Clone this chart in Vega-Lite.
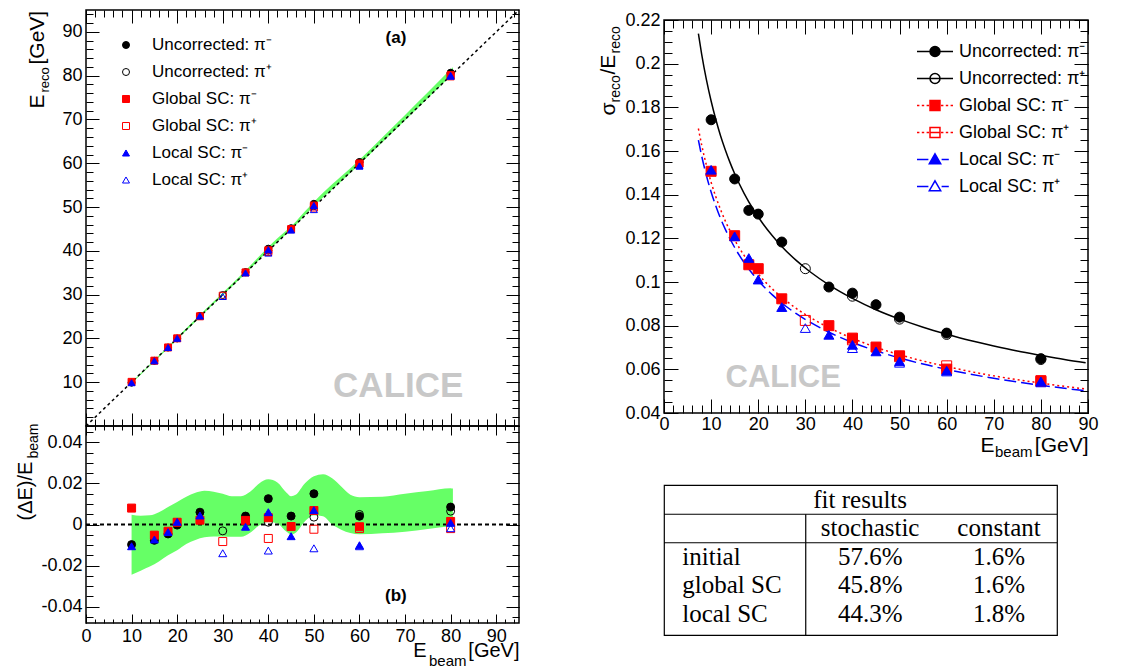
{
"$schema": "https://vega.github.io/schema/vega-lite/v6.json",
"padding": {"left": 14, "top": 6, "right": 5, "bottom": 5},
"background": "white",
"config": {
  "view": {"stroke": "black", "strokeWidth": 1.5},
  "font": "Liberation Sans",
  "axis": {"domain": false, "grid": false, "tickColor": "black", "tickWidth": 1, "labelColor": "black", "labelFont": "Liberation Sans", "labelFontSize": 18, "labelFlush": false, "labelOverlap": false, "titleFont": "Liberation Sans", "titleColor": "black", "titleFontWeight": "normal", "titlePadding": 0},
  "legend": {"labelFont": "Liberation Sans", "labelColor": "black", "padding": 0}
},
"datasets": {
  "pts": [
    {"s":"Uncorrected: π⁻","e":10,"r":-0.0098,"er":9.90,"q":0.1743},
    {"s":"Uncorrected: π⁻","e":15,"r":-0.0077,"er":14.88,"q":0.1472},
    {"s":"Uncorrected: π⁻","e":18,"r":-0.0046,"er":17.92,"q":0.1328},
    {"s":"Uncorrected: π⁻","e":20,"r":-0.0003,"er":19.99,"q":0.1311},
    {"s":"Uncorrected: π⁻","e":25,"r":0.0060,"er":25.15,"q":0.1183},
    {"s":"Uncorrected: π⁻","e":35,"r":0.0041,"er":35.14,"q":0.0977},
    {"s":"Uncorrected: π⁻","e":40,"r":0.0126,"er":40.50,"q":0.0949},
    {"s":"Uncorrected: π⁻","e":45,"r":0.0041,"er":45.18,"q":0.0896},
    {"s":"Uncorrected: π⁻","e":50,"r":0.0150,"er":50.75,"q":0.0839},
    {"s":"Uncorrected: π⁻","e":60,"r":0.0040,"er":60.24,"q":0.0766},
    {"s":"Uncorrected: π⁻","e":80,"r":0.0085,"er":80.68,"q":0.0649},
    {"s":"Uncorrected: π⁺","e":30,"r":-0.0031,"er":29.91,"q":0.1061},
    {"s":"Uncorrected: π⁺","e":40,"r":0.0011,"er":40.04,"q":0.0935},
    {"s":"Uncorrected: π⁺","e":50,"r":0.0036,"er":50.18,"q":0.0830},
    {"s":"Uncorrected: π⁺","e":60,"r":0.0049,"er":60.29,"q":0.0760},
    {"s":"Uncorrected: π⁺","e":80,"r":0.0065,"er":80.52,"q":0.0645},
    {"s":"Global SC: π⁻","e":10,"r":0.0080,"er":10.08,"q":0.1507},
    {"s":"Global SC: π⁻","e":15,"r":-0.0052,"er":14.92,"q":0.1212},
    {"s":"Global SC: π⁻","e":18,"r":-0.0033,"er":17.94,"q":0.1079},
    {"s":"Global SC: π⁻","e":20,"r":0.0011,"er":20.02,"q":0.1061},
    {"s":"Global SC: π⁻","e":25,"r":0.0021,"er":25.05,"q":0.0923},
    {"s":"Global SC: π⁻","e":35,"r":0.0020,"er":35.07,"q":0.0800},
    {"s":"Global SC: π⁻","e":40,"r":0.0033,"er":40.13,"q":0.0743},
    {"s":"Global SC: π⁻","e":45,"r":-0.0010,"er":44.96,"q":0.0702},
    {"s":"Global SC: π⁻","e":50,"r":0.0068,"er":50.34,"q":0.0662},
    {"s":"Global SC: π⁻","e":60,"r":-0.0011,"er":59.93,"q":0.0601},
    {"s":"Global SC: π⁻","e":80,"r":0.0015,"er":80.12,"q":0.0548},
    {"s":"Global SC: π⁺","e":30,"r":-0.0083,"er":29.75,"q":0.0824},
    {"s":"Global SC: π⁺","e":40,"r":-0.0068,"er":39.73,"q":0.0735},
    {"s":"Global SC: π⁺","e":50,"r":-0.0023,"er":49.89,"q":0.0658},
    {"s":"Global SC: π⁺","e":60,"r":-0.0020,"er":59.88,"q":0.0616},
    {"s":"Global SC: π⁺","e":80,"r":-0.0020,"er":79.84,"q":0.0545},
    {"s":"Local SC: π⁻","e":10,"r":-0.0106,"er":9.89,"q":0.1514},
    {"s":"Local SC: π⁻","e":15,"r":-0.0073,"er":14.89,"q":0.1209},
    {"s":"Local SC: π⁻","e":18,"r":-0.0037,"er":17.93,"q":0.1110},
    {"s":"Local SC: π⁻","e":20,"r":0.0013,"er":20.03,"q":0.1011},
    {"s":"Local SC: π⁻","e":25,"r":0.0044,"er":25.11,"q":0.0885},
    {"s":"Local SC: π⁻","e":35,"r":-0.0011,"er":34.96,"q":0.0758},
    {"s":"Local SC: π⁻","e":40,"r":0.0060,"er":40.24,"q":0.0712},
    {"s":"Local SC: π⁻","e":45,"r":-0.0057,"er":44.74,"q":0.0682},
    {"s":"Local SC: π⁻","e":50,"r":0.0070,"er":50.35,"q":0.0637},
    {"s":"Local SC: π⁻","e":60,"r":-0.0101,"er":59.39,"q":0.0594},
    {"s":"Local SC: π⁻","e":80,"r":0.0008,"er":80.06,"q":0.0545},
    {"s":"Local SC: π⁺","e":30,"r":-0.0140,"er":29.58,"q":0.0789},
    {"s":"Local SC: π⁺","e":40,"r":-0.0127,"er":39.49,"q":0.0697},
    {"s":"Local SC: π⁺","e":50,"r":-0.0116,"er":49.42,"q":0.0630},
    {"s":"Local SC: π⁺","e":60,"r":-0.0106,"er":59.36,"q":0.0590},
    {"s":"Local SC: π⁺","e":80,"r":-0.0018,"er":79.86,"q":0.0540}
  ],
  "ser": [
    {"s2":"Uncorrected: π⁻"},{"s2":"Uncorrected: π⁺"},{"s2":"Global SC: π⁻"},
    {"s2":"Global SC: π⁺"},{"s2":"Local SC: π⁻"},{"s2":"Local SC: π⁺"}
  ],
  "band": [
    {"e":10,"lo":-0.0245,"hi":0.0048,"elo":9.755,"ehi":10.048},
    {"e":12,"lo":-0.0225,"hi":0.0043,"elo":11.73,"ehi":12.052},
    {"e":14,"lo":-0.0205,"hi":0.0045,"elo":13.713,"ehi":14.063},
    {"e":16,"lo":-0.018,"hi":0.006,"elo":15.712,"ehi":16.096},
    {"e":18,"lo":-0.015,"hi":0.0085,"elo":17.73,"ehi":18.153},
    {"e":20,"lo":-0.0125,"hi":0.011,"elo":19.75,"ehi":20.22},
    {"e":22,"lo":-0.0095,"hi":0.0135,"elo":21.791,"ehi":22.297},
    {"e":24,"lo":-0.0075,"hi":0.0155,"elo":23.82,"ehi":24.372},
    {"e":26,"lo":-0.0062,"hi":0.0165,"elo":25.839,"ehi":26.429},
    {"e":28,"lo":-0.0058,"hi":0.016,"elo":27.838,"ehi":28.448},
    {"e":30,"lo":-0.0058,"hi":0.015,"elo":29.826,"ehi":30.45},
    {"e":32,"lo":-0.006,"hi":0.0138,"elo":31.808,"ehi":32.442},
    {"e":34,"lo":-0.006,"hi":0.0138,"elo":33.796,"ehi":34.469},
    {"e":36,"lo":-0.004,"hi":0.016,"elo":35.856,"ehi":36.576},
    {"e":38,"lo":-0.0005,"hi":0.02,"elo":37.981,"ehi":38.76},
    {"e":40,"lo":0.0012,"hi":0.022,"elo":40.048,"ehi":40.88},
    {"e":42,"lo":0.0005,"hi":0.0205,"elo":42.021,"ehi":42.861},
    {"e":44,"lo":-0.0035,"hi":0.0155,"elo":43.846,"ehi":44.682},
    {"e":45,"lo":-0.0048,"hi":0.0138,"elo":44.784,"ehi":45.621},
    {"e":46,"lo":-0.004,"hi":0.0145,"elo":45.816,"ehi":46.667},
    {"e":48,"lo":0.0015,"hi":0.02,"elo":48.072,"ehi":48.96},
    {"e":50,"lo":0.0045,"hi":0.0235,"elo":50.225,"ehi":51.175},
    {"e":52,"lo":0.004,"hi":0.0245,"elo":52.208,"ehi":53.274},
    {"e":54,"lo":0.0,"hi":0.0225,"elo":54.0,"ehi":55.215},
    {"e":56,"lo":-0.0025,"hi":0.0185,"elo":55.86,"ehi":57.036},
    {"e":58,"lo":-0.0042,"hi":0.0145,"elo":57.756,"ehi":58.841},
    {"e":60,"lo":-0.0048,"hi":0.0133,"elo":59.712,"ehi":60.798},
    {"e":65,"lo":-0.0043,"hi":0.0135,"elo":64.72,"ehi":65.878},
    {"e":70,"lo":-0.0035,"hi":0.015,"elo":69.755,"ehi":71.05},
    {"e":75,"lo":-0.0022,"hi":0.0163,"elo":74.835,"ehi":76.223},
    {"e":80,"lo":-0.0009,"hi":0.0177,"elo":79.928,"ehi":81.416},
    {"e":80.5,"lo":-0.0008,"hi":0.0175,"elo":80.436,"ehi":81.909}
  ],
  "fits": [
    {"e":7.3,"u":0.2138,"g":0.1703,"l":0.1650},
    {"e":8,"u":0.2043,"g":0.1627,"l":0.1577},
    {"e":9,"u":0.1927,"g":0.1535,"l":0.1488},
    {"e":10,"u":0.1829,"g":0.1457,"l":0.1412},
    {"e":11,"u":0.1744,"g":0.1390,"l":0.1348},
    {"e":12,"u":0.1670,"g":0.1332,"l":0.1291},
    {"e":13,"u":0.1606,"g":0.1280,"l":0.1242},
    {"e":14,"u":0.1548,"g":0.1235,"l":0.1198},
    {"e":15,"u":0.1496,"g":0.1193,"l":0.1158},
    {"e":17,"u":0.1406,"g":0.1122,"l":0.1089},
    {"e":19,"u":0.1331,"g":0.1063,"l":0.1032},
    {"e":21,"u":0.1267,"g":0.1012,"l":0.0983},
    {"e":23,"u":0.1212,"g":0.0968,"l":0.0941},
    {"e":25,"u":0.1163,"g":0.0930,"l":0.0904},
    {"e":28,"u":0.1100,"g":0.0880,"l":0.0856},
    {"e":31,"u":0.1047,"g":0.0838,"l":0.0816},
    {"e":35,"u":0.0987,"g":0.0791,"l":0.0770},
    {"e":40,"u":0.0925,"g":0.0742,"l":0.0723},
    {"e":45,"u":0.0873,"g":0.0701,"l":0.0685},
    {"e":50,"u":0.0830,"g":0.0667,"l":0.0652},
    {"e":55,"u":0.0793,"g":0.0638,"l":0.0624},
    {"e":60,"u":0.0761,"g":0.0613,"l":0.0600},
    {"e":65,"u":0.0732,"g":0.0590,"l":0.0578},
    {"e":70,"u":0.0707,"g":0.0570,"l":0.0559},
    {"e":75,"u":0.0684,"g":0.0553,"l":0.0542},
    {"e":80,"u":0.0664,"g":0.0537,"l":0.0527},
    {"e":85,"u":0.0645,"g":0.0522,"l":0.0513},
    {"e":89.5,"u":0.0630,"g":0.0510,"l":0.0502}
  ],
  "diag": [{"e":0,"v":0},{"e":95,"v":95}],
  "zero": [{"e":0,"v":0},{"e":95,"v":0}],
  "hdr": [{"r":0,"c":1,"t":"fit results"}],
  "cells": [
    {"r":1,"c":1,"t":"stochastic"},{"r":1,"c":2,"t":"constant"},
    {"r":2,"c":1,"t":"57.6%"},{"r":2,"c":2,"t":"1.6%"},
    {"r":3,"c":1,"t":"45.8%"},{"r":3,"c":2,"t":"1.6%"},
    {"r":4,"c":1,"t":"44.3%"},{"r":4,"c":2,"t":"1.8%"}
  ],
  "rowlab": [{"r":2,"c":0,"t":"initial"},{"r":3,"c":0,"t":"global SC"},{"r":4,"c":0,"t":"local SC"}],
  "hlines": [{"r":0.5},{"r":1.5}],
  "vline": [{"c":0.5,"r":0.5,"r2":4.737}]
},
"hconcat": [
  {
    "vconcat": [
      {
        "width": 433, "height": 416,
        "layer": [
          {"data": {"name": "band"}, "mark": {"type": "area", "color": "#66ff66", "interpolate": "monotone"},
           "encoding": {
             "x": {"field": "e", "type": "quantitative", "scale": {"domain": [0, 95], "nice": false, "zero": false},
                   "axis": {"orient": "bottom", "values": [0,10,20,30,40,50,60,70,80,90], "labels": false, "tickSize": -13, "title": null}},
             "y": {"field": "ehi", "type": "quantitative", "scale": {"domain": [0, 95], "nice": false, "zero": false},
                   "axis": {"orient": "left", "values": [10,20,30,40,50,60,70,80,90], "tickSize": -13, "labelPadding": 17, "title": "E", "titleX": -43, "titleY": 98, "titleAngle": 270, "titleAlign": "left", "titleBaseline": "alphabetic", "titleFontSize": 21}},
             "y2": {"field": "elo"}
           }},
          {"data": {"name": "diag"}, "mark": {"type": "line", "color": "black", "strokeDash": [3, 3], "strokeWidth": 1.5},
           "encoding": {
             "x": {"field": "e", "type": "quantitative", "scale": {"domain": [0, 95], "nice": false, "zero": false},
                   "axis": {"orient": "bottom", "values": [0,2,4,6,8,10,12,14,16,18,20,22,24,26,28,30,32,34,36,38,40,42,44,46,48,50,52,54,56,58,60,62,64,66,68,70,72,74,76,78,80,82,84,86,88,90,92,94], "labels": false, "tickSize": -7, "title": null}},
             "y": {"field": "v", "type": "quantitative", "scale": {"domain": [0, 95], "nice": false, "zero": false},
                   "axis": {"orient": "left", "values": [0,2,4,6,8,10,12,14,16,18,20,22,24,26,28,30,32,34,36,38,40,42,44,46,48,50,52,54,56,58,60,62,64,66,68,70,72,74,76,78,80,82,84,86,88,90,92,94], "labels": false, "tickSize": -7, "title": "reco", "titleX": -38, "titleY": 82, "titleAngle": 270, "titleAlign": "left", "titleBaseline": "alphabetic", "titleFontSize": 13}}
           }},
          {"data": {"name": "pts"}, "mark": {"type": "point", "size": 49, "strokeWidth": 1, "opacity": 1},
           "encoding": {
             "x": {"field": "e", "type": "quantitative", "scale": {"domain": [0, 95], "nice": false, "zero": false},
                   "axis": {"orient": "top", "values": [0,10,20,30,40,50,60,70,80,90], "labels": false, "tickSize": -13, "title": null}},
             "y": {"field": "er", "type": "quantitative", "scale": {"domain": [0, 95], "nice": false, "zero": false},
                   "axis": {"orient": "right", "values": [0,10,20,30,40,50,60,70,80,90], "labels": false, "tickSize": -13, "title": "[GeV]", "titleX": -476, "titleY": 54, "titleAngle": 270, "titleAlign": "left", "titleBaseline": "alphabetic", "titleFontSize": 21}},
             "shape": {"field": "s", "type": "nominal", "scale": {"domain": ["Uncorrected: π⁻","Uncorrected: π⁺","Global SC: π⁻","Global SC: π⁺","Local SC: π⁻","Local SC: π⁺"], "range": ["circle","circle","square","square","triangle-up","triangle-up"]},
                       "legend": {"orient": "none", "legendX": 31.5, "legendY": 26.5, "title": null, "labelFontSize": 17, "labelOffset": 17.5, "rowPadding": 9, "symbolSize": 49, "symbolStrokeWidth": 1}},
             "fill": {"field": "s", "type": "nominal", "scale": {"domain": ["Uncorrected: π⁻","Uncorrected: π⁺","Global SC: π⁻","Global SC: π⁺","Local SC: π⁻","Local SC: π⁺"], "range": ["black","transparent","#ff0000","transparent","#0000ff","transparent"]},
                       "legend": {"orient": "none", "legendX": 31.5, "legendY": 26.5, "title": null, "labelFontSize": 17, "labelOffset": 17.5, "rowPadding": 9, "symbolSize": 49, "symbolStrokeWidth": 1}},
             "stroke": {"field": "s", "type": "nominal", "scale": {"domain": ["Uncorrected: π⁻","Uncorrected: π⁺","Global SC: π⁻","Global SC: π⁺","Local SC: π⁻","Local SC: π⁺"], "range": ["black","black","#ff0000","#ff0000","#0000ff","#0000ff"]},
                       "legend": {"orient": "none", "legendX": 31.5, "legendY": 26.5, "title": null, "labelFontSize": 17, "labelOffset": 17.5, "rowPadding": 9, "symbolSize": 49, "symbolStrokeWidth": 1}}
           }},
          {"data": {"values": [{}]}, "mark": {"type": "text", "text": "(a)", "fontSize": 17, "fontWeight": "bold", "align": "center", "baseline": "middle", "color": "black"},
           "encoding": {
             "x": {"datum": 68, "type": "quantitative", "scale": {"domain": [0, 95], "nice": false, "zero": false},
                   "axis": {"orient": "top", "values": [0,2,4,6,8,10,12,14,16,18,20,22,24,26,28,30,32,34,36,38,40,42,44,46,48,50,52,54,56,58,60,62,64,66,68,70,72,74,76,78,80,82,84,86,88,90,92,94], "labels": false, "tickSize": -7, "title": null}},
             "y": {"datum": 88.6, "type": "quantitative", "scale": {"domain": [0, 95], "nice": false, "zero": false},
                   "axis": {"orient": "right", "values": [0,2,4,6,8,10,12,14,16,18,20,22,24,26,28,30,32,34,36,38,40,42,44,46,48,50,52,54,56,58,60,62,64,66,68,70,72,74,76,78,80,82,84,86,88,90,92,94], "labels": false, "tickSize": -7, "title": null}}
           }},
          {"data": {"values": [{}]}, "mark": {"type": "text", "text": "CALICE", "fontSize": 35, "fontWeight": "bold", "align": "center", "baseline": "middle", "color": "#c8c8c8"},
           "encoding": {
             "x": {"datum": 68.5, "type": "quantitative", "axis": null},
             "y": {"datum": 9.1, "type": "quantitative", "axis": null}
           }}
        ],
        "resolve": {"axis": {"x": "independent", "y": "independent"}}
      },
      {
        "width": 433, "height": 197,
        "layer": [
          {"data": {"name": "band"}, "mark": {"type": "area", "color": "#66ff66", "interpolate": "monotone"},
           "encoding": {
             "x": {"field": "e", "type": "quantitative", "scale": {"domain": [0, 95], "nice": false, "zero": false},
                   "axis": {"orient": "bottom", "values": [0,10,20,30,40,50,60,70,80,90], "tickSize": -9, "labelPadding": 13, "title": "[GeV]", "titleX": 433, "titleY": 33, "titleAngle": 0, "titleAlign": "right", "titleBaseline": "alphabetic", "titleFontSize": 20}},
             "y": {"field": "hi", "type": "quantitative", "scale": {"domain": [-0.048, 0.048], "nice": false, "zero": false},
                   "axis": {"orient": "left", "values": [-0.04, -0.02, 0, 0.02, 0.04], "tickSize": -13, "labelPadding": 17, "labelExpr": "datum.value < 0 ? '-' + format(-datum.value, '~g') : format(datum.value, '~g')", "title": "(ΔE)/E", "titleX": -55, "titleY": 94, "titleAngle": 270, "titleAlign": "left", "titleBaseline": "alphabetic", "titleFontSize": 20}},
             "y2": {"field": "lo"}
           }},
          {"data": {"name": "zero"}, "mark": {"type": "line", "color": "black", "strokeDash": [4, 3], "strokeWidth": 2},
           "encoding": {
             "x": {"field": "e", "type": "quantitative", "scale": {"domain": [0, 95], "nice": false, "zero": false},
                   "axis": {"orient": "bottom", "values": [0,2,4,6,8,10,12,14,16,18,20,22,24,26,28,30,32,34,36,38,40,42,44,46,48,50,52,54,56,58,60,62,64,66,68,70,72,74,76,78,80,82,84,86,88,90,92,94], "labels": false, "tickSize": -4, "title": "E", "titleX": 340, "titleY": 33, "titleAngle": 0, "titleAlign": "right", "titleBaseline": "alphabetic", "titleFontSize": 20}},
             "y": {"field": "v", "type": "quantitative", "scale": {"domain": [-0.048, 0.048], "nice": false, "zero": false},
                   "axis": {"orient": "left", "values": [-0.045,-0.04,-0.035,-0.03,-0.025,-0.02,-0.015,-0.01,-0.005,0,0.005,0.01,0.015,0.02,0.025,0.03,0.035,0.04,0.045], "labels": false, "tickSize": -7, "title": "beam", "titleX": -49, "titleY": 32, "titleAngle": 270, "titleAlign": "left", "titleBaseline": "alphabetic", "titleFontSize": 14}}
           }},
          {"data": {"name": "pts"}, "mark": {"type": "point", "size": 64, "strokeWidth": 1, "opacity": 1},
           "encoding": {
             "x": {"field": "e", "type": "quantitative", "scale": {"domain": [0, 95], "nice": false, "zero": false},
                   "axis": {"orient": "top", "values": [0,10,20,30,40,50,60,70,80,90], "labels": false, "tickSize": -9, "title": "beam", "titleX": 380, "titleY": 239, "titleAngle": 0, "titleAlign": "right", "titleBaseline": "alphabetic", "titleFontSize": 15}},
             "y": {"field": "r", "type": "quantitative", "scale": {"domain": [-0.048, 0.048], "nice": false, "zero": false},
                   "axis": {"orient": "right", "values": [-0.04, -0.02, 0, 0.02, 0.04], "labels": false, "tickSize": -13, "title": null}},
             "shape": {"field": "s", "type": "nominal", "scale": {"domain": ["Uncorrected: π⁻","Uncorrected: π⁺","Global SC: π⁻","Global SC: π⁺","Local SC: π⁻","Local SC: π⁺"], "range": ["circle","circle","square","square","triangle-up","triangle-up"]}, "legend": null},
             "fill": {"field": "s", "type": "nominal", "scale": {"domain": ["Uncorrected: π⁻","Uncorrected: π⁺","Global SC: π⁻","Global SC: π⁺","Local SC: π⁻","Local SC: π⁺"], "range": ["black","transparent","#ff0000","transparent","#0000ff","transparent"]}, "legend": null},
             "stroke": {"field": "s", "type": "nominal", "scale": {"domain": ["Uncorrected: π⁻","Uncorrected: π⁺","Global SC: π⁻","Global SC: π⁺","Local SC: π⁻","Local SC: π⁺"], "range": ["black","black","#ff0000","#ff0000","#0000ff","#0000ff"]}, "legend": null}
           }},
          {"data": {"values": [{}]}, "mark": {"type": "text", "text": "(b)", "fontSize": 17, "fontWeight": "bold", "align": "center", "baseline": "middle", "color": "black"},
           "encoding": {
             "x": {"datum": 68, "type": "quantitative", "scale": {"domain": [0, 95], "nice": false, "zero": false},
                   "axis": {"orient": "top", "values": [0,2,4,6,8,10,12,14,16,18,20,22,24,26,28,30,32,34,36,38,40,42,44,46,48,50,52,54,56,58,60,62,64,66,68,70,72,74,76,78,80,82,84,86,88,90,92,94], "labels": false, "tickSize": -4, "title": null}},
             "y": {"datum": -0.0348, "type": "quantitative", "scale": {"domain": [-0.048, 0.048], "nice": false, "zero": false},
                   "axis": {"orient": "right", "values": [-0.045,-0.04,-0.035,-0.03,-0.025,-0.02,-0.015,-0.01,-0.005,0,0.005,0.01,0.015,0.02,0.025,0.03,0.035,0.04,0.045], "labels": false, "tickSize": -7, "title": null}}
           }}
        ],
        "resolve": {"axis": {"x": "independent", "y": "independent"}}
      }
    ],
    "spacing": 0,
    "bounds": "flush",
    "resolve": {"scale": {"fill": "independent", "stroke": "independent", "shape": "independent"}, "legend": {"fill": "independent", "stroke": "independent", "shape": "independent"}}
  },
  {
    "vconcat": [
      {"width": 424, "height": 10, "view": {"stroke": null}, "data": {"values": []}, "mark": {"type": "text"}},
      {
        "vconcat": [
          {
            "width": 424, "height": 393,
            "layer": [
              {"data": {"name": "fits"}, "mark": {"type": "line", "color": "black", "strokeWidth": 1.5, "interpolate": "monotone"},
               "encoding": {
                 "x": {"field": "e", "type": "quantitative", "scale": {"domain": [0, 90], "nice": false, "zero": false},
                       "axis": {"orient": "bottom", "values": [0,10,20,30,40,50,60,70,80,90], "tickSize": -14, "labelPadding": 16, "title": "[GeV]", "titleX": 424, "titleY": 38, "titleAngle": 0, "titleAlign": "right", "titleBaseline": "alphabetic", "titleFontSize": 21}},
                 "y": {"field": "u", "type": "quantitative", "scale": {"domain": [0.04, 0.22], "nice": false, "zero": false},
                       "axis": {"orient": "left", "values": [0.04,0.06,0.08,0.1,0.12,0.14,0.16,0.18,0.2,0.22], "tickSize": -14, "labelPadding": 18, "labelExpr": "format(datum.value, '~g')", "title": "σ", "titleX": -50, "titleY": 95, "titleAngle": 270, "titleAlign": "left", "titleBaseline": "alphabetic", "titleFontSize": 21}}
               }},
              {"data": {"name": "fits"}, "mark": {"type": "line", "color": "#ff0000", "strokeWidth": 1.5, "strokeDash": [2, 3], "interpolate": "monotone"},
               "encoding": {
                 "x": {"field": "e", "type": "quantitative", "scale": {"domain": [0, 90], "nice": false, "zero": false},
                       "axis": {"orient": "bottom", "values": [0,2,4,6,8,10,12,14,16,18,20,22,24,26,28,30,32,34,36,38,40,42,44,46,48,50,52,54,56,58,60,62,64,66,68,70,72,74,76,78,80,82,84,86,88,90], "labels": false, "tickSize": -8, "title": "E", "titleX": 330, "titleY": 38, "titleAngle": 0, "titleAlign": "right", "titleBaseline": "alphabetic", "titleFontSize": 21}},
                 "y": {"field": "g", "type": "quantitative", "scale": {"domain": [0.04, 0.22], "nice": false, "zero": false},
                       "axis": {"orient": "left", "values": [0.04,0.045,0.05,0.055,0.06,0.065,0.07,0.075,0.08,0.085,0.09,0.095,0.1,0.105,0.11,0.115,0.12,0.125,0.13,0.135,0.14,0.145,0.15,0.155,0.16,0.165,0.17,0.175,0.18,0.185,0.19,0.195,0.2,0.205,0.21,0.215,0.22], "labels": false, "tickSize": -8, "title": "reco", "titleX": -45, "titleY": 82, "titleAngle": 270, "titleAlign": "left", "titleBaseline": "alphabetic", "titleFontSize": 14}}
               }},
              {"data": {"name": "fits"}, "mark": {"type": "line", "color": "#0000ff", "strokeWidth": 1.5, "strokeDash": [12, 5], "interpolate": "monotone"},
               "encoding": {
                 "x": {"field": "e", "type": "quantitative", "scale": {"domain": [0, 90], "nice": false, "zero": false},
                       "axis": {"orient": "top", "values": [0,10,20,30,40,50,60,70,80,90], "labels": false, "tickSize": -14, "title": "beam", "titleX": 368, "titleY": 436, "titleAngle": 0, "titleAlign": "right", "titleBaseline": "alphabetic", "titleFontSize": 15}},
                 "y": {"field": "l", "type": "quantitative", "scale": {"domain": [0.04, 0.22], "nice": false, "zero": false},
                       "axis": {"orient": "right", "values": [0.04,0.06,0.08,0.1,0.12,0.14,0.16,0.18,0.2,0.22], "labels": false, "tickSize": -14, "title": "/E", "titleX": -474, "titleY": 54, "titleAngle": 270, "titleAlign": "left", "titleBaseline": "alphabetic", "titleFontSize": 21}}
               }},
              {"data": {"name": "pts"}, "mark": {"type": "point", "size": 100, "strokeWidth": 1, "opacity": 1},
               "encoding": {
                 "x": {"field": "e", "type": "quantitative", "scale": {"domain": [0, 90], "nice": false, "zero": false},
                       "axis": {"orient": "top", "values": [0,2,4,6,8,10,12,14,16,18,20,22,24,26,28,30,32,34,36,38,40,42,44,46,48,50,52,54,56,58,60,62,64,66,68,70,72,74,76,78,80,82,84,86,88,90], "labels": false, "tickSize": -8, "title": null}},
                 "y": {"field": "q", "type": "quantitative", "scale": {"domain": [0.04, 0.22], "nice": false, "zero": false},
                       "axis": {"orient": "right", "values": [0.04,0.045,0.05,0.055,0.06,0.065,0.07,0.075,0.08,0.085,0.09,0.095,0.1,0.105,0.11,0.115,0.12,0.125,0.13,0.135,0.14,0.145,0.15,0.155,0.16,0.165,0.17,0.175,0.18,0.185,0.19,0.195,0.2,0.205,0.21,0.215,0.22], "labels": false, "tickSize": -8, "title": "reco", "titleX": -469, "titleY": 33, "titleAngle": 270, "titleAlign": "left", "titleBaseline": "alphabetic", "titleFontSize": 14}},
                 "shape": {"field": "s", "type": "nominal", "scale": {"domain": ["Uncorrected: π⁻","Uncorrected: π⁺","Global SC: π⁻","Global SC: π⁺","Local SC: π⁻","Local SC: π⁺"], "range": ["circle","circle","square","square","triangle-up","triangle-up"]}, "legend": null},
                 "fill": {"field": "s", "type": "nominal", "scale": {"domain": ["Uncorrected: π⁻","Uncorrected: π⁺","Global SC: π⁻","Global SC: π⁺","Local SC: π⁻","Local SC: π⁺"], "range": ["black","transparent","#ff0000","transparent","#0000ff","transparent"]}, "legend": null},
                 "stroke": {"field": "s", "type": "nominal", "scale": {"domain": ["Uncorrected: π⁻","Uncorrected: π⁺","Global SC: π⁻","Global SC: π⁺","Local SC: π⁻","Local SC: π⁺"], "range": ["black","black","#ff0000","#ff0000","#0000ff","#0000ff"]}, "legend": null}
               }},
              {"data": {"name": "ser"}, "mark": {"type": "point", "size": 0, "strokeWidth": 1.5, "opacity": 1},
               "encoding": {
                 "x": {"datum": 50, "type": "quantitative", "axis": null},
                 "y": {"datum": 0.1, "type": "quantitative", "axis": null},
                 "shape": {"field": "s2", "type": "nominal", "scale": {"domain": ["Uncorrected: π⁻","Uncorrected: π⁺","Global SC: π⁻","Global SC: π⁺","Local SC: π⁻","Local SC: π⁺"], "range": ["M-3,0L3,0M0.83,0A0.83,0.83,0,1,1,-0.83,0A0.83,0.83,0,1,1,0.83,0Z","M-3,0L3,0M0.83,0A0.83,0.83,0,1,1,-0.83,0A0.83,0.83,0,1,1,0.83,0Z","M-3,0H-2.6M-2.2,0H-1.8M-1.4,0H-1M1,0H1.4M1.8,0H2.2M2.6,0H3M-0.83,-0.83H0.83V0.83H-0.83Z","M-3,0H-2.6M-2.2,0H-1.8M-1.4,0H-1M1,0H1.4M1.8,0H2.2M2.6,0H3M-0.83,-0.83H0.83V0.83H-0.83ZM-0.83,0H0.83","M-3,0H-1.1M1.1,0H2.3M0,-0.95L0.95,0.7L-0.95,0.7Z","M-3,0H-1.1M1.1,0H2.3M0,-0.95L0.95,0.7L-0.95,0.7Z"]},
                           "legend": {"orient": "none", "legendX": 262, "legendY": 22.5, "title": null, "labelFontSize": 18, "labelOffset": 15, "rowPadding": 9, "symbolSize": 144, "symbolStrokeWidth": 1.5, "symbolOpacity": 1}},
                 "fill": {"field": "s2", "type": "nominal", "scale": {"domain": ["Uncorrected: π⁻","Uncorrected: π⁺","Global SC: π⁻","Global SC: π⁺","Local SC: π⁻","Local SC: π⁺"], "range": ["black","transparent","#ff0000","transparent","#0000ff","transparent"]},
                           "legend": {"orient": "none", "legendX": 262, "legendY": 22.5, "title": null, "labelFontSize": 18, "labelOffset": 15, "rowPadding": 9, "symbolSize": 144, "symbolStrokeWidth": 1.5, "symbolOpacity": 1}},
                 "stroke": {"field": "s2", "type": "nominal", "scale": {"domain": ["Uncorrected: π⁻","Uncorrected: π⁺","Global SC: π⁻","Global SC: π⁺","Local SC: π⁻","Local SC: π⁺"], "range": ["black","black","#ff0000","#ff0000","#0000ff","#0000ff"]},
                           "legend": {"orient": "none", "legendX": 262, "legendY": 22.5, "title": null, "labelFontSize": 18, "labelOffset": 15, "rowPadding": 9, "symbolSize": 144, "symbolStrokeWidth": 1.5, "symbolOpacity": 1}}
               }},
              {"data": {"values": [{}]}, "mark": {"type": "text", "text": "CALICE", "fontSize": 31, "fontWeight": "bold", "align": "center", "baseline": "middle", "color": "#c8c8c8"},
               "encoding": {
                 "x": {"datum": 25.3, "type": "quantitative", "axis": null},
                 "y": {"datum": 0.056, "type": "quantitative", "axis": null}
               }}
            ],
            "resolve": {"axis": {"x": "independent", "y": "independent"}, "scale": {"shape": "independent", "fill": "independent", "stroke": "independent"}, "legend": {"shape": "independent", "fill": "independent", "stroke": "independent"}}
          },
          {
            "width": 393, "height": 150,
            "view": {"stroke": "black", "strokeWidth": 1.2},
            "layer": [
              {"data": {"name": "hlines"}, "mark": {"type": "rule", "color": "black", "strokeWidth": 1.2},
               "encoding": {"y": {"field": "r", "type": "quantitative", "scale": {"domain": [-0.526, 4.737], "reverse": true, "nice": false, "zero": false}, "axis": null}}},
              {"data": {"name": "vline"}, "mark": {"type": "rule", "color": "black", "strokeWidth": 1.2},
               "encoding": {
                 "x": {"field": "c", "type": "quantitative", "scale": {"domain": [-0.6, 2.45], "nice": false, "zero": false}, "axis": null},
                 "y": {"field": "r", "type": "quantitative", "axis": null},
                 "y2": {"field": "r2"}
               }},
              {"data": {"name": "hdr"}, "mark": {"type": "text", "font": "Liberation Serif", "fontSize": 25, "align": "center", "baseline": "middle", "dx": -10, "color": "black"},
               "encoding": {
                 "x": {"field": "c", "type": "quantitative", "axis": null},
                 "y": {"field": "r", "type": "quantitative", "axis": null},
                 "text": {"field": "t"}
               }},
              {"data": {"name": "cells"}, "mark": {"type": "text", "font": "Liberation Serif", "fontSize": 25, "align": "center", "baseline": "middle", "color": "black"},
               "encoding": {
                 "x": {"field": "c", "type": "quantitative", "axis": null},
                 "y": {"field": "r", "type": "quantitative", "axis": null},
                 "text": {"field": "t"}
               }},
              {"data": {"name": "rowlab"}, "mark": {"type": "text", "font": "Liberation Serif", "fontSize": 25, "align": "left", "baseline": "middle", "dx": -59, "color": "black"},
               "encoding": {
                 "x": {"field": "c", "type": "quantitative", "axis": null},
                 "y": {"field": "r", "type": "quantitative", "axis": null},
                 "text": {"field": "t"}
               }}
            ]
          }
        ],
        "spacing": 72,
        "bounds": "flush",
        "resolve": {"scale": {"fill": "independent", "stroke": "independent", "shape": "independent"}, "legend": {"fill": "independent", "stroke": "independent", "shape": "independent"}}
      }
    ],
    "spacing": 0,
    "bounds": "flush",
    "resolve": {"scale": {"fill": "independent", "stroke": "independent", "shape": "independent"}, "legend": {"fill": "independent", "stroke": "independent", "shape": "independent"}}
  }
],
"spacing": 578,
"bounds": "flush",
"resolve": {"scale": {"fill": "independent", "stroke": "independent", "shape": "independent"}, "legend": {"fill": "independent", "stroke": "independent", "shape": "independent"}}
}
